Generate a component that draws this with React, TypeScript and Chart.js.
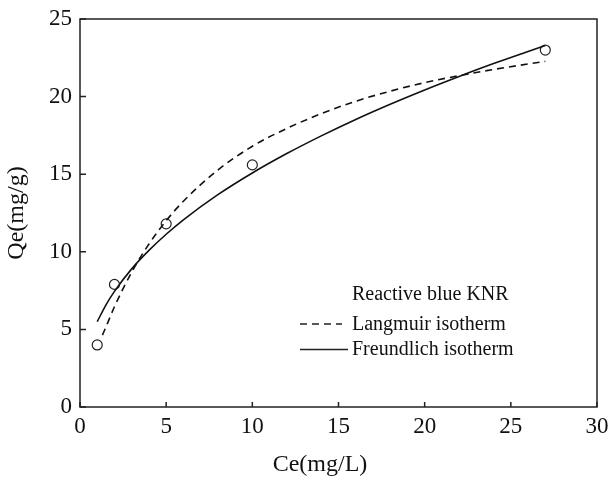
import React, { useEffect, useRef } from "react";
import { Chart, registerables } from "chart.js";

Chart.register(...registerables);

// Experimental data
const expCe = [1, 2, 5, 10, 27];
const expQe = [4.0, 7.9, 11.8, 15.6, 23.0];

// Langmuir isotherm curve
const langCe = [1.3, 1.5, 2, 3, 4, 5, 6, 8, 10, 12, 14, 16, 18, 20, 22, 24, 26, 27];
const langQe = [4.63, 5.14, 6.46, 8.69, 10.5, 12.0, 13.26, 15.27, 16.8, 17.95, 18.9, 19.7, 20.35, 20.9, 21.35, 21.75, 22.1, 22.27];

// Freundlich isotherm curve
const freuCe = [1, 1.5, 2, 3, 4, 5, 6, 8, 10, 12, 14, 16, 18, 20, 22, 24, 26, 27];
const freuQe = [5.5, 6.57, 7.45, 8.9, 10.09, 11.13, 12.06, 13.68, 15.08, 16.33, 17.47, 18.53, 19.51, 20.43, 21.3, 22.13, 22.91, 23.3];

const xTicks = [0, 5, 10, 15, 20, 25, 30];
const yTicks = [0, 5, 10, 15, 20, 25];

const legendTitle = "Reactive blue KNR";
const legendLabels = ["Langmuir isotherm", "Freundlich isotherm"];
const xTitle = "Ce(mg/L)";
const yTitle = "Qe(mg/g)";

const FONT = "'Liberation Serif', 'Times New Roman', serif";

const framePlugin = {
  id: "frame",
  afterDatasetsDraw(chart: any) {
    const { ctx, chartArea, scales } = chart;
    const { left, right, top, bottom } = chartArea;
    ctx.save();
    ctx.strokeStyle = "#222";
    ctx.lineWidth = 1.5;
    ctx.strokeRect(left, top, right - left, bottom - top);
    // inward ticks
    ctx.beginPath();
    xTicks.forEach((v) => {
      const x = scales.x.getPixelForValue(v);
      ctx.moveTo(x, bottom);
      ctx.lineTo(x, bottom - 5);
    });
    yTicks.forEach((v) => {
      const y = scales.y.getPixelForValue(v);
      ctx.moveTo(left, y);
      ctx.lineTo(left + 6, y);
    });
    ctx.stroke();

    // x-axis title
    ctx.fillStyle = "#111";
    ctx.font = `24px ${FONT}`;
    ctx.textAlign = "center";
    ctx.textBaseline = "middle";
    ctx.fillText(xTitle, 320, 465);

    // legend
    const lx = 300;
    ctx.font = `20px ${FONT}`;
    ctx.textAlign = "left";
    ctx.fillText(legendTitle, 352, 295);
    ctx.fillText(legendLabels[0], 352, 325);
    ctx.fillText(legendLabels[1], 352, 350);
    ctx.lineWidth = 1.5;
    ctx.setLineDash([7, 5]);
    ctx.beginPath();
    ctx.moveTo(lx, 324);
    ctx.lineTo(342, 324);
    ctx.stroke();
    ctx.setLineDash([]);
    ctx.beginPath();
    ctx.moveTo(lx, 349.5);
    ctx.lineTo(348, 349.5);
    ctx.stroke();
    ctx.restore();
  },
};

export default function App() {
  const ref = useRef<HTMLCanvasElement>(null);
  useEffect(() => {
    if (!ref.current) return;
    const chart = new Chart(ref.current, {
      type: "scatter",
      data: {
        datasets: [
          {
            label: legendLabels[0],
            data: langCe.map((c, i) => ({ x: c, y: langQe[i] })),
            showLine: true,
            borderColor: "#111",
            borderWidth: 1.6,
            borderDash: [7, 5],
            pointRadius: 0,
            cubicInterpolationMode: "monotone",
          },
          {
            label: legendLabels[1],
            data: freuCe.map((c, i) => ({ x: c, y: freuQe[i] })),
            showLine: true,
            borderColor: "#111",
            borderWidth: 1.6,
            pointRadius: 0,
            cubicInterpolationMode: "monotone",
          },
          {
            label: "Experimental",
            data: expCe.map((c, i) => ({ x: c, y: expQe[i] })),
            showLine: false,
            pointRadius: 5,
            pointBorderWidth: 1.2,
            pointBorderColor: "#222",
            pointBackgroundColor: "rgba(255,255,255,0)",
          },
        ],
      },
      options: {
        animation: false,
        responsive: false,
        layout: { padding: { top: 19, right: 15, left: 0, bottom: 0 } },
        plugins: { legend: { display: false }, tooltip: { enabled: false } },
        scales: {
          x: {
            type: "linear",
            min: 0,
            max: 30,
            grid: { display: false, drawTicks: false },
            border: { display: false },
            afterFit: (s: any) => {
              s.height = 72;
              s.paddingRight = 0;
              s.paddingLeft = 0;
            },
            afterBuildTicks: (s: any) => {
              s.ticks = xTicks.map((v) => ({ value: v }));
            },
            ticks: {
              color: "#111",
              padding: 6,
              font: { family: FONT, size: 23 },
            },
          },
          y: {
            type: "linear",
            min: 0,
            max: 25,
            grid: { display: false, drawTicks: false },
            border: { display: false },
            afterFit: (s: any) => {
              s.width = 80;
              s.paddingTop = 0;
              s.paddingBottom = 0;
            },
            afterBuildTicks: (s: any) => {
              s.ticks = yTicks.map((v) => ({ value: v }));
            },
            ticks: {
              color: "#111",
              padding: 8,
              font: { family: FONT, size: 23 },
            },
            title: {
              display: true,
              text: yTitle,
              color: "#111",
              font: { family: FONT, size: 24, lineHeight: 1.2 },
              padding: { top: 2, bottom: 0 },
            },
          },
        },
      },
      plugins: [framePlugin],
    });
    return () => chart.destroy();
  }, []);
  return (
    <div style={{ position: "fixed", left: 0, top: 0, width: 612, height: 479, background: "#fff" }}>
      <canvas ref={ref} width={612} height={479} />
    </div>
  );
}
